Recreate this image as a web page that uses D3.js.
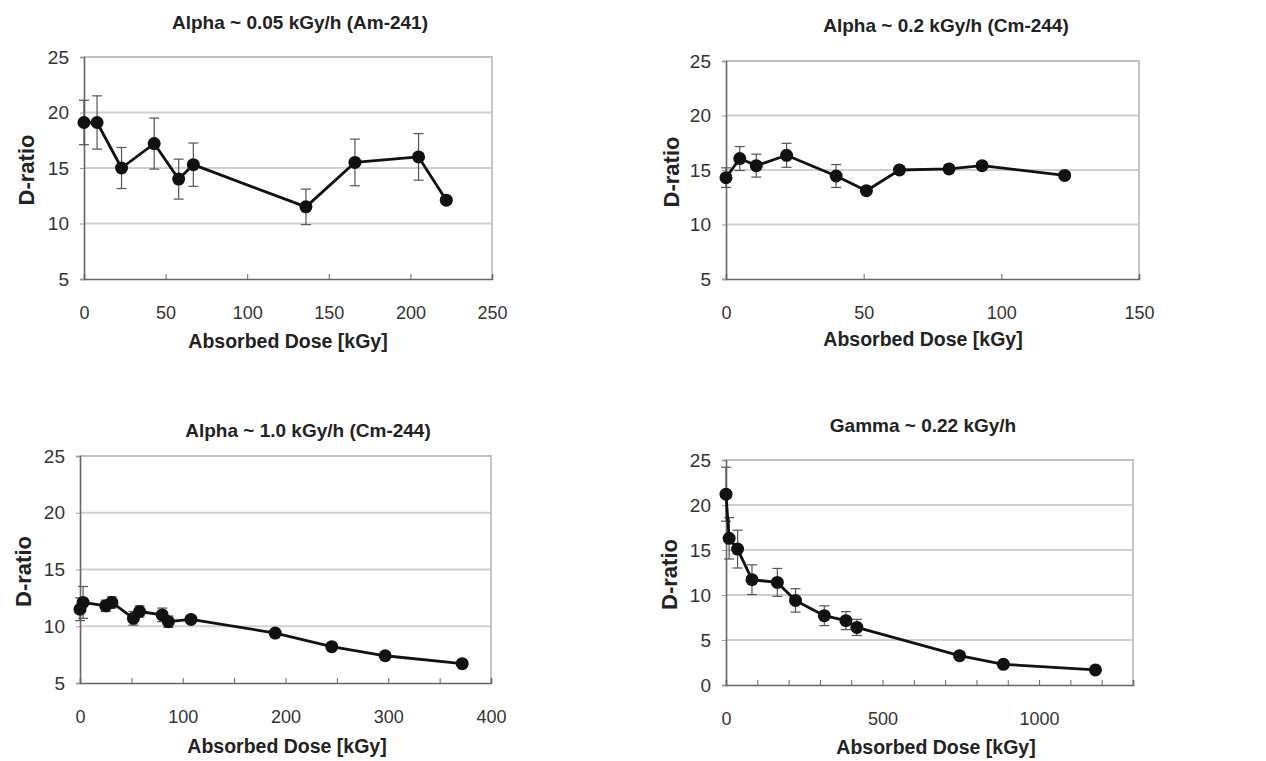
<!DOCTYPE html>
<html>
<head>
<meta charset="utf-8">
<script src="https://cdn.jsdelivr.net/npm/d3@7"></script>
<style>
  body { margin: 0; background: #fff; }
  svg { display: block; font-family: "Liberation Sans", Arial, sans-serif; }
</style>
</head>
<body>
<svg id="chart" width="1266" height="761"></svg>
<script>
// ---- data ----
const titles = ["Alpha ~ 0.05 kGy/h (Am-241)", "Alpha ~ 0.2 kGy/h (Cm-244)",
                "Alpha ~ 1.0 kGy/h (Cm-244)", "Gamma ~ 0.22 kGy/h"];

const am241Dose = [0, 8, 23, 43, 58, 67, 136, 166, 205, 222];
const am241D    = [19.1, 19.1, 15.0, 17.2, 14.0, 15.3, 11.5, 15.5, 16.0, 12.1];
const am241Err  = [2.0, 2.4, 1.85, 2.3, 1.8, 1.95, 1.6, 2.1, 2.1, 0.2];

const cm244lowDose = [0, 5, 11, 22, 40, 51, 63, 81, 93, 123];
const cm244lowD    = [14.3, 16.05, 15.4, 16.35, 14.45, 13.1, 15.0, 15.1, 15.4, 14.5];
const cm244lowErr  = [0.9, 1.1, 1.05, 1.1, 1.05, 0.3, 0.4, 0.35, 0.35, 0.3];

const cm244highDose = [0, 3, 25, 31, 52, 58, 80, 86, 108, 190, 245, 297, 372];
const cm244highD    = [11.5, 12.1, 11.8, 12.1, 10.7, 11.3, 11.0, 10.4, 10.6, 9.4, 8.2, 7.4, 6.7];
const cm244highErr  = [1.0, 1.4, 0.5, 0.5, 0.6, 0.5, 0.6, 0.5, 0.2, 0.2, 0.2, 0.2, 0.2];

const gammaDose = [0, 10, 37, 83, 164, 222, 314, 383, 418, 746, 886, 1180];
const gammaD    = [21.2, 16.3, 15.1, 11.7, 11.4, 9.4, 7.7, 7.15, 6.4, 3.26, 2.3, 1.67];
const gammaErr  = [3.0, 2.3, 2.1, 1.65, 1.55, 1.3, 1.1, 1.0, 0.9, 0.25, 0.25, 0.2];

const xMaxes   = [250, 150, 400, 1300];
const xLabels  = [[0, 50, 100, 150, 200, 250], [0, 50, 100, 150],
                  [0, 100, 200, 300, 400], [0, 500, 1000]];
const xMinor   = [50, 50, 50, 100];
const yMins    = [5, 5, 5, 0];
const yLabels  = [[5, 10, 15, 20, 25], [5, 10, 15, 20, 25],
                  [5, 10, 15, 20, 25], [0, 5, 10, 15, 20, 25]];

const series = [
  {dose: am241Dose, d: am241D, err: am241Err},
  {dose: cm244lowDose, d: cm244lowD, err: cm244lowErr},
  {dose: cm244highDose, d: cm244highD, err: cm244highErr},
  {dose: gammaDose, d: gammaD, err: gammaErr}
];

// plot boxes and text positions per panel
const boxes = [
  {l: 84,  r: 492,  t: 57,  b: 279, titleX: 300, titleY: 29,  xtY: 348, ytX: 26},
  {l: 726, r: 1139, t: 61,  b: 279, titleX: 946, titleY: 32,  xtY: 346, ytX: 671},
  {l: 80,  r: 491,  t: 456, b: 683, titleX: 308, titleY: 437, xtY: 753, ytX: 23},
  {l: 726, r: 1133, t: 460, b: 685, titleX: 923, titleY: 432, xtY: 754, ytX: 669}
];
const xtCenters = [288, 923, 287, 936];

const svg = d3.select("#chart");

boxes.forEach((bx, i) => {
  const s = series[i];
  const x = d3.scaleLinear().domain([0, xMaxes[i]]).range([bx.l, bx.r]);
  const y = d3.scaleLinear().domain([yMins[i], 25]).range([bx.b, bx.t]);
  const g = svg.append("g");

  // grid lines
  g.selectAll(".grid")
    .data(yLabels[i].filter(v => v > yMins[i] && v < 25))
    .join("line")
      .attr("x1", bx.l).attr("x2", bx.r)
      .attr("y1", d => y(d)).attr("y2", d => y(d))
      .style("stroke", "#d0d0d0").style("stroke-width", 1.8);

  // light top / right frame
  g.append("path")
    .attr("d", `M${bx.l},${bx.t}H${bx.r}V${bx.b}`)
    .style("fill", "none").style("stroke", "#c0c0c0").style("stroke-width", 1.8);

  // x axis: minor ticks pointing up, labels only at majors
  const xAxis = d3.axisBottom(x)
    .tickValues(d3.range(0, xMaxes[i] + 0.1, xMinor[i]))
    .tickSize(-5)
    .tickFormat(d => xLabels[i].includes(d) ? d : "");
  const xg = g.append("g").attr("transform", `translate(0,${bx.b})`).call(xAxis);
  xg.select(".domain").style("stroke", "#666").style("stroke-width", 1.6);
  xg.selectAll(".tick line").style("stroke", "#666");
  xg.selectAll(".tick text")
    .attr("y", 27).attr("dy", "0.71em")
    .style("font-size", "18px").style("fill", "#333").style("font-family", "Liberation Sans, Arial, sans-serif");

  // y axis
  const yAxis = d3.axisLeft(y).tickValues(yLabels[i]).tickSize(4);
  const yg = g.append("g").attr("transform", `translate(${bx.l},0)`).call(yAxis);
  yg.select(".domain").style("stroke", "#666").style("stroke-width", 1.6);
  yg.selectAll(".tick line").style("stroke", "#999");
  yg.selectAll(".tick text")
    .attr("x", -15)
    .style("font-size", "19px").style("fill", "#333").style("font-family", "Liberation Sans, Arial, sans-serif");

  // error bars
  const pts = s.dose.map((v, k) => ({x: v, y: s.d[k], e: s.err[k]}));
  const eb = g.append("g").style("stroke", "#555").style("stroke-width", 1.2);
  eb.selectAll(".eb")
    .data(pts)
    .join("line")
      .attr("x1", d => x(d.x)).attr("x2", d => x(d.x))
      .attr("y1", d => y(d.y - d.e)).attr("y2", d => y(d.y + d.e));
  eb.selectAll(".capTop")
    .data(pts)
    .join("line")
      .attr("x1", d => x(d.x) - 5).attr("x2", d => x(d.x) + 5)
      .attr("y1", d => y(d.y + d.e)).attr("y2", d => y(d.y + d.e));
  eb.selectAll(".capBot")
    .data(pts)
    .join("line")
      .attr("x1", d => x(d.x) - 5).attr("x2", d => x(d.x) + 5)
      .attr("y1", d => y(d.y - d.e)).attr("y2", d => y(d.y - d.e));

  // line + markers
  const line = d3.line().x(d => x(d.x)).y(d => y(d.y));
  g.append("path")
    .datum(pts)
    .attr("d", line)
    .style("fill", "none").style("stroke", "#111").style("stroke-width", 2.8)
    .style("stroke-linejoin", "round");
  g.selectAll(".pt")
    .data(pts)
    .join("circle")
      .attr("cx", d => x(d.x)).attr("cy", d => y(d.y))
      .attr("r", 6.5)
      .style("fill", "#111");

  // titles
  svg.append("text")
    .attr("x", bx.titleX).attr("y", bx.titleY)
    .attr("text-anchor", "middle")
    .style("font-size", "19px").style("font-weight", "bold").style("fill", "#222")
    .text(titles[i]);
  svg.append("text")
    .attr("x", xtCenters[i]).attr("y", bx.xtY)
    .attr("text-anchor", "middle")
    .style("font-size", "19.5px").style("font-weight", "bold").style("fill", "#222")
    .text("Absorbed Dose [kGy]");
  svg.append("text")
    .attr("transform", `translate(${bx.ytX},${(bx.t + bx.b) / 2 + 2}) rotate(-90)`)
    .attr("text-anchor", "middle")
    .attr("dy", "0.35em")
    .style("font-size", "22px").style("font-weight", "bold").style("fill", "#222")
    .text("D-ratio");
});
</script>
</body>
</html>
